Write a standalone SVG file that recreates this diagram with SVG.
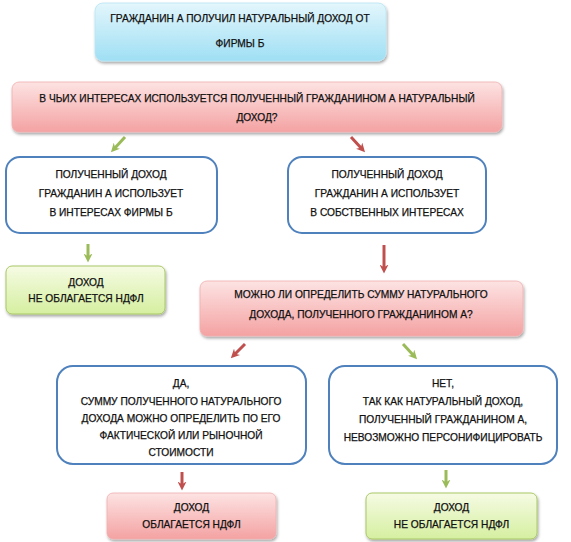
<svg xmlns="http://www.w3.org/2000/svg" width="571" height="542" viewBox="0 0 571 542">
<defs>
<linearGradient id="gBlue" x1="0" y1="0" x2="0" y2="1"><stop offset="0" stop-color="#e3f6fc"/><stop offset="1" stop-color="#9fdff4"/></linearGradient>
<linearGradient id="gPink" x1="0" y1="0" x2="0" y2="1"><stop offset="0" stop-color="#fde3e3"/><stop offset="1" stop-color="#f4a2a2"/></linearGradient>
<linearGradient id="gGreen" x1="0" y1="0" x2="0" y2="1"><stop offset="0" stop-color="#f6fbe4"/><stop offset="1" stop-color="#d5efa0"/></linearGradient>
<filter id="sh" x="-10%" y="-20%" width="120%" height="150%"><feDropShadow dx="1" dy="2" stdDeviation="1.5" flood-color="#000" flood-opacity="0.35"/></filter>
<marker id="mG" viewBox="0 0 10 10" refX="5" refY="5" markerWidth="3" markerHeight="3" orient="auto" markerUnits="strokeWidth"><path d="M0,0 L10,5 L0,10 L3,5 Z" fill="#9bbb59"/></marker>
<marker id="mR" viewBox="0 0 10 10" refX="5" refY="5" markerWidth="3" markerHeight="3" orient="auto" markerUnits="strokeWidth"><path d="M0,0 L10,5 L0,10 L3,5 Z" fill="#c0504d"/></marker>
</defs>
<style>
text{font-family:"Liberation Sans",Arial,sans-serif;font-size:10.2px;fill:#111;stroke:#111;stroke-width:0.25;text-anchor:middle}
.blue{fill:url(#gBlue);stroke:#b8e6f5;stroke-width:0.8;filter:url(#sh)}
.pink{fill:url(#gPink);stroke:#f0b0b0;stroke-width:0.8;filter:url(#sh)}
.green{fill:url(#gGreen);stroke:#a9c866;stroke-width:1;filter:url(#sh)}
.outl{fill:#fff;stroke:#4f81bd;stroke-width:2}
.ag{stroke:#9bbb59;stroke-width:3;fill:none;marker-end:url(#mG)}
.ar{stroke:#c0504d;stroke-width:3;fill:none;marker-end:url(#mR)}
</style>
<g id="n1"><rect class="blue" x="95" y="3" width="291" height="58" rx="8"/><text x="240" y="22">ГРАЖДАНИН А ПОЛУЧИЛ НАТУРАЛЬНЫЙ ДОХОД ОТ</text><text x="240" y="47">ФИРМЫ Б</text></g>
<g id="n2"><rect class="pink" x="12" y="82" width="490" height="50" rx="7"/><text x="257" y="102">В ЧЬИХ ИНТЕРЕСАХ ИСПОЛЬЗУЕТСЯ ПОЛУЧЕННЫЙ ГРАЖДАНИНОМ А НАТУРАЛЬНЫЙ</text><text x="257" y="121">ДОХОД?</text></g>
<g id="n3"><rect class="outl" x="6" y="157" width="211" height="76" rx="14"/><text x="111" y="178">ПОЛУЧЕННЫЙ ДОХОД</text><text x="111" y="197">ГРАЖДАНИН А ИСПОЛЬЗУЕТ</text><text x="111" y="216">В ИНТЕРЕСАХ ФИРМЫ Б</text></g>
<g id="n4"><rect class="outl" x="288" y="157" width="198" height="76" rx="14"/><text x="387" y="178">ПОЛУЧЕННЫЙ ДОХОД</text><text x="387" y="197">ГРАЖДАНИН А ИСПОЛЬЗУЕТ</text><text x="387" y="216">В СОБСТВЕННЫХ ИНТЕРЕСАХ</text></g>
<g id="n5"><rect class="green" x="6" y="266" width="159" height="48" rx="6"/><text x="86" y="286">ДОХОД</text><text x="86" y="302">НЕ ОБЛАГАЕТСЯ НДФЛ</text></g>
<g id="n6"><rect class="pink" x="200" y="281" width="323" height="55" rx="7"/><text x="361" y="298">МОЖНО ЛИ ОПРЕДЕЛИТЬ СУММУ НАТУРАЛЬНОГО</text><text x="361" y="318">ДОХОДА, ПОЛУЧЕННОГО ГРАЖДАНИНОМ А?</text></g>
<g id="n7"><rect class="outl" x="57" y="366" width="249" height="98" rx="16"/><text x="181" y="387">ДА,</text><text x="181" y="405">СУММУ ПОЛУЧЕННОГО НАТУРАЛЬНОГО</text><text x="181" y="422">ДОХОДА МОЖНО ОПРЕДЕЛИТЬ ПО ЕГО</text><text x="181" y="439">ФАКТИЧЕСКОЙ ИЛИ РЫНОЧНОЙ</text><text x="181" y="456">СТОИМОСТИ</text></g>
<g id="n8"><rect class="outl" x="329" y="366" width="228" height="98" rx="16"/><text x="443" y="387">НЕТ,</text><text x="443" y="405">ТАК КАК НАТУРАЛЬНЫЙ ДОХОД,</text><text x="443" y="423">ПОЛУЧЕННЫЙ ГРАЖДАНИНОМ А,</text><text x="443" y="441">НЕВОЗМОЖНО ПЕРСОНИФИЦИРОВАТЬ</text></g>
<g id="n9"><rect class="pink" x="107" y="493" width="169" height="46" rx="6"/><text x="191.5" y="511">ДОХОД</text><text x="191.5" y="528">ОБЛАГАЕТСЯ НДФЛ</text></g>
<g id="n10"><rect class="green" x="366" y="493" width="171" height="46" rx="6"/><text x="451.5" y="511">ДОХОД</text><text x="451.5" y="528">НЕ ОБЛАГАЕТСЯ НДФЛ</text></g>
<g id="connectors">
<path class="ag" d="M125,137 L114,149"/>
<path class="ar" d="M351,137 L362,149"/>
<path class="ag" d="M88,244 L88,258"/>
<path class="ar" d="M384,245 L384,269"/>
<path class="ar" d="M245,344 L234,355"/>
<path class="ag" d="M403,344 L414,356"/>
<path class="ar" d="M182,472 L182,486"/>
<path class="ag" d="M446,470 L446,484"/>
</g>
</svg>
